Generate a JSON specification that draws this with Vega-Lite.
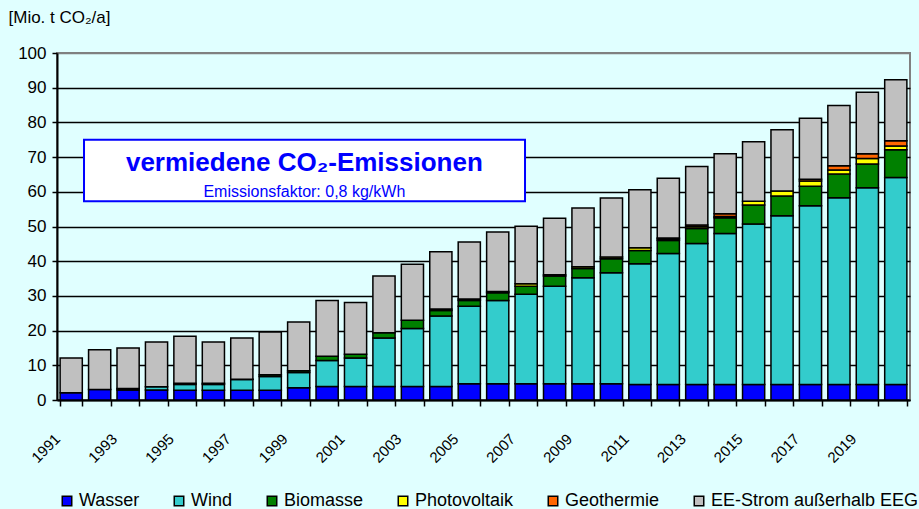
{
  "$schema": "https://vega.github.io/schema/vega-lite/v6.json",
  "width": 853,
  "height": 347,
  "autosize": {"type": "none"},
  "padding": {"left": 57, "top": 53, "right": 9, "bottom": 109},
  "background": "#E0FFFF",
  "config": {
    "font": "Liberation Sans",
    "view": {"stroke": "#808080", "strokeWidth": 2}
  },
  "layer": [
    {
      "data": {
        "values": [
          {"year": 1991, "Wasser": 2.1, "Wind": 0, "Biomasse": 0, "Photovoltaik": 0, "Geothermie": 0, "EE-Strom außerhalb EEG": 10.0},
          {"year": 1992, "Wasser": 3.0, "Wind": 0, "Biomasse": 0, "Photovoltaik": 0, "Geothermie": 0, "EE-Strom außerhalb EEG": 11.5},
          {"year": 1993, "Wasser": 2.9, "Wind": 0.4, "Biomasse": 0, "Photovoltaik": 0, "Geothermie": 0, "EE-Strom außerhalb EEG": 11.7},
          {"year": 1994, "Wasser": 2.9, "Wind": 0.9, "Biomasse": 0, "Photovoltaik": 0, "Geothermie": 0, "EE-Strom außerhalb EEG": 12.9},
          {"year": 1995, "Wasser": 2.8, "Wind": 1.7, "Biomasse": 0.3, "Photovoltaik": 0, "Geothermie": 0, "EE-Strom außerhalb EEG": 13.6},
          {"year": 1996, "Wasser": 2.8, "Wind": 1.7, "Biomasse": 0.3, "Photovoltaik": 0, "Geothermie": 0, "EE-Strom außerhalb EEG": 11.9},
          {"year": 1997, "Wasser": 2.8, "Wind": 3.1, "Biomasse": 0.1, "Photovoltaik": 0, "Geothermie": 0, "EE-Strom außerhalb EEG": 11.9},
          {"year": 1998, "Wasser": 2.8, "Wind": 4.0, "Biomasse": 0.5, "Photovoltaik": 0, "Geothermie": 0, "EE-Strom außerhalb EEG": 12.3},
          {"year": 1999, "Wasser": 3.5, "Wind": 4.4, "Biomasse": 0.5, "Photovoltaik": 0, "Geothermie": 0, "EE-Strom außerhalb EEG": 14.1},
          {"year": 2000, "Wasser": 3.9, "Wind": 7.5, "Biomasse": 1.2, "Photovoltaik": 0, "Geothermie": 0, "EE-Strom außerhalb EEG": 16.1},
          {"year": 2001, "Wasser": 3.9, "Wind": 8.2, "Biomasse": 1.1, "Photovoltaik": 0, "Geothermie": 0, "EE-Strom außerhalb EEG": 14.9},
          {"year": 2002, "Wasser": 3.9, "Wind": 14.0, "Biomasse": 1.5, "Photovoltaik": 0, "Geothermie": 0, "EE-Strom außerhalb EEG": 16.3},
          {"year": 2003, "Wasser": 3.9, "Wind": 16.7, "Biomasse": 2.4, "Photovoltaik": 0, "Geothermie": 0, "EE-Strom außerhalb EEG": 16.1},
          {"year": 2004, "Wasser": 3.9, "Wind": 20.3, "Biomasse": 1.6, "Photovoltaik": 0.4, "Geothermie": 0, "EE-Strom außerhalb EEG": 16.5},
          {"year": 2005, "Wasser": 4.7, "Wind": 22.3, "Biomasse": 1.7, "Photovoltaik": 0.4, "Geothermie": 0, "EE-Strom außerhalb EEG": 16.4},
          {"year": 2006, "Wasser": 4.7, "Wind": 24.0, "Biomasse": 2.2, "Photovoltaik": 0.4, "Geothermie": 0, "EE-Strom außerhalb EEG": 17.1},
          {"year": 2007, "Wasser": 4.7, "Wind": 25.8, "Biomasse": 2.3, "Photovoltaik": 0.7, "Geothermie": 0, "EE-Strom außerhalb EEG": 16.6},
          {"year": 2008, "Wasser": 4.7, "Wind": 28.1, "Biomasse": 2.9, "Photovoltaik": 0.4, "Geothermie": 0, "EE-Strom außerhalb EEG": 16.3},
          {"year": 2009, "Wasser": 4.7, "Wind": 30.5, "Biomasse": 2.7, "Photovoltaik": 0.5, "Geothermie": 0, "EE-Strom außerhalb EEG": 16.9},
          {"year": 2010, "Wasser": 4.7, "Wind": 32.0, "Biomasse": 4.0, "Photovoltaik": 0.5, "Geothermie": 0, "EE-Strom außerhalb EEG": 17.0},
          {"year": 2011, "Wasser": 4.5, "Wind": 34.8, "Biomasse": 3.8, "Photovoltaik": 0.8, "Geothermie": 0, "EE-Strom außerhalb EEG": 16.7},
          {"year": 2012, "Wasser": 4.5, "Wind": 37.7, "Biomasse": 3.8, "Photovoltaik": 0.4, "Geothermie": 0.3, "EE-Strom außerhalb EEG": 17.2},
          {"year": 2013, "Wasser": 4.5, "Wind": 40.6, "Biomasse": 4.3, "Photovoltaik": 0.5, "Geothermie": 0.5, "EE-Strom außerhalb EEG": 16.9},
          {"year": 2014, "Wasser": 4.5, "Wind": 43.5, "Biomasse": 4.5, "Photovoltaik": 0.4, "Geothermie": 0.8, "EE-Strom außerhalb EEG": 17.3},
          {"year": 2015, "Wasser": 4.5, "Wind": 46.2, "Biomasse": 5.5, "Photovoltaik": 1.1, "Geothermie": 0, "EE-Strom außerhalb EEG": 17.1},
          {"year": 2016, "Wasser": 4.5, "Wind": 48.6, "Biomasse": 5.7, "Photovoltaik": 1.4, "Geothermie": 0, "EE-Strom außerhalb EEG": 17.7},
          {"year": 2017, "Wasser": 4.5, "Wind": 51.5, "Biomasse": 5.6, "Photovoltaik": 1.5, "Geothermie": 0.5, "EE-Strom außerhalb EEG": 17.6},
          {"year": 2018, "Wasser": 4.5, "Wind": 53.8, "Biomasse": 6.8, "Photovoltaik": 1.2, "Geothermie": 1.2, "EE-Strom außerhalb EEG": 17.4},
          {"year": 2019, "Wasser": 4.5, "Wind": 56.7, "Biomasse": 6.8, "Photovoltaik": 1.6, "Geothermie": 1.4, "EE-Strom außerhalb EEG": 17.7},
          {"year": 2020, "Wasser": 4.5, "Wind": 59.6, "Biomasse": 8.0, "Photovoltaik": 1.1, "Geothermie": 1.5, "EE-Strom außerhalb EEG": 17.6}
        ]
      },
      "transform": [
        {"fold": ["Wasser", "Wind", "Biomasse", "Photovoltaik", "Geothermie", "EE-Strom außerhalb EEG"], "as": ["source", "value"]},
        {"filter": "datum.value > 0"},
        {"calculate": "indexof(['Wasser', 'Wind', 'Biomasse', 'Photovoltaik', 'Geothermie', 'EE-Strom außerhalb EEG'], datum.source)", "as": "stackOrder"}
      ],
      "mark": {"type": "bar", "stroke": "black", "strokeWidth": 1.5},
      "encoding": {
        "x": {
          "field": "year", "type": "ordinal",
          "scale": {"paddingInner": 0.22, "paddingOuter": 0.11},
          "axis": {
            "title": null, "labelAngle": -45, "labelAlign": "right", "labelBaseline": "middle",
            "labelFontSize": 15, "labelColor": "black", "labelPadding": 30, "labelOffset": -14,
            "labelOverlap": false,
            "labelExpr": "datum.value % 2 == 1 ? datum.label : ''",
            "tickBand": "extent", "tickSize": 6, "tickColor": "black", "tickWidth": 1.5,
            "domainColor": "black", "domainWidth": 2, "grid": false
          }
        },
        "y": {
          "field": "value", "type": "quantitative", "stack": "zero",
          "scale": {"domain": [0, 100], "nice": false},
          "axis": {
            "title": "[Mio. t CO₂/a]", "titleAngle": 0, "titleAlign": "left", "titleBaseline": "alphabetic",
            "titleX": -49, "titleY": -31, "titleFontSize": 17, "titleFontWeight": "normal", "titleColor": "black",
            "values": [0, 10, 20, 30, 40, 50, 60, 70, 80, 90, 100],
            "labelOverlap": false,
            "labelFontSize": 17, "labelColor": "black", "labelPadding": 6,
            "tickSize": 5, "tickColor": "black", "tickWidth": 1.5,
            "domainColor": "black", "domainWidth": 2,
            "gridColor": {"condition": {"test": "datum.value === 100", "value": "#808080"}, "value": "black"},
            "gridWidth": 1.5, "gridOpacity": 1
          }
        },
        "color": {
          "field": "source", "type": "nominal",
          "sort": ["Wasser", "Wind", "Biomasse", "Photovoltaik", "Geothermie", "EE-Strom außerhalb EEG"],
          "scale": {
            "domain": ["Wasser", "Wind", "Biomasse", "Photovoltaik", "Geothermie", "EE-Strom außerhalb EEG"],
            "range": ["#0000FF", "#33CCCC", "#008000", "#FFFF00", "#FF6600", "#C0C0C0"]
          },
          "legend": {
            "orient": "none", "legendX": 1, "legendY": 439, "direction": "horizontal",
            "title": null, "symbolType": "square", "symbolSize": 90,
            "symbolStrokeColor": "black", "symbolStrokeWidth": 1.5, "symbolOpacity": 1,
            "labelFontSize": 18, "labelColor": "black", "labelOffset": 3, "columnPadding": 30,
            "labelLimit": 400
          }
        },
        "order": {"field": "stackOrder", "type": "quantitative", "sort": "ascending"}
      }
    },
    {
      "data": {
        "values": [
          {"kind": "box", "x1": 1991.45, "x2": 2006.96, "y1": 57.3, "y2": 75}
        ]
      },
      "layer": [
        {
          "mark": {"type": "rect", "fill": "white", "stroke": "#0000FF", "strokeWidth": 2},
          "encoding": {
            "x": {"field": "x1", "type": "quantitative", "scale": {"domain": [1990.5, 2020.5], "nice": false, "zero": false}, "axis": null},
            "x2": {"field": "x2"},
            "y": {"field": "y1", "type": "quantitative", "scale": {"domain": [0, 100], "nice": false, "zero": false}, "axis": null},
            "y2": {"field": "y2"}
          }
        },
        {
          "data": {"values": [
            {"x": 1999.2, "y": 65.9, "label": "vermiedene CO₂-Emissionen", "part": "title"}
          ]},
          "mark": {"type": "text", "fontSize": 26, "fontWeight": "bold", "color": "#0000FF", "align": "center", "baseline": "alphabetic"},
          "encoding": {
            "x": {"field": "x", "type": "quantitative"},
            "y": {"field": "y", "type": "quantitative"},
            "text": {"field": "label"}
          }
        },
        {
          "data": {"values": [
            {"x": 1999.2, "y": 58.4, "label": "Emissionsfaktor: 0,8 kg/kWh", "part": "sub"}
          ]},
          "mark": {"type": "text", "fontSize": 16, "color": "#0000FF", "align": "center", "baseline": "alphabetic"},
          "encoding": {
            "x": {"field": "x", "type": "quantitative"},
            "y": {"field": "y", "type": "quantitative"},
            "text": {"field": "label"}
          }
        }
      ]
    }
  ],
  "resolve": {"scale": {"x": "independent", "y": "independent"}}
}
